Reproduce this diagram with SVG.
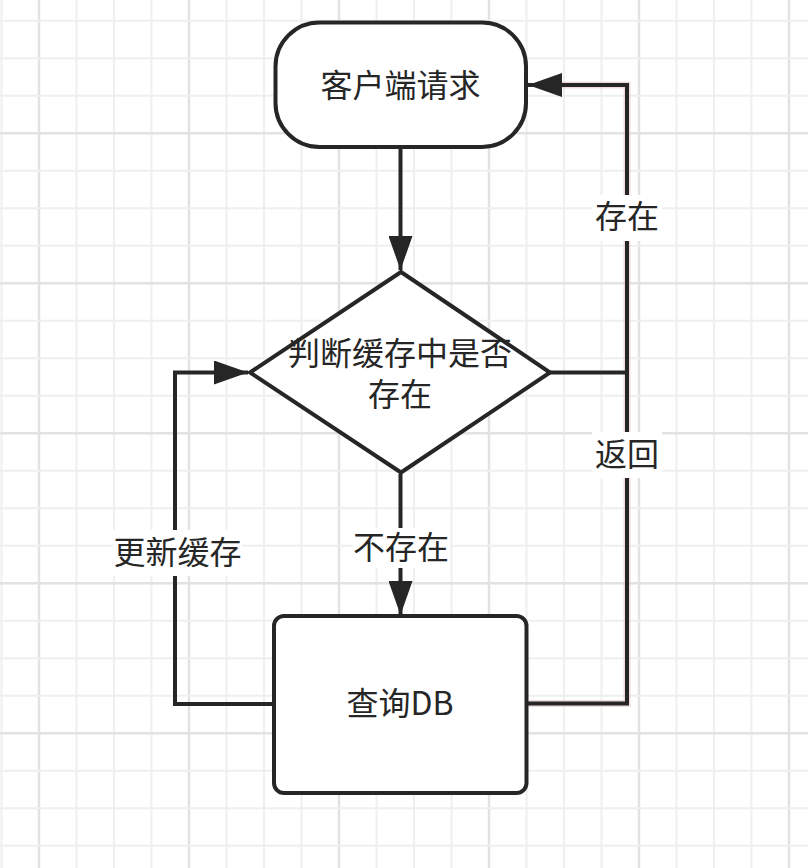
<svg xmlns="http://www.w3.org/2000/svg" width="808" height="868" viewBox="0 0 808 868">
<style>
.minor{stroke:#efefef;stroke-width:2}
.major{stroke:#e2e2e2;stroke-width:2.5}
.shape{fill:#fff;stroke:#262626;stroke-width:4}
.line{fill:none;stroke:#262626;stroke-width:4}
.halo{fill:none;stroke:#e8c4c4;stroke-width:7;opacity:0.6}
.t{font-family:"Noto Sans CJK SC","Noto Sans",sans-serif;font-size:32px;fill:#262626;text-anchor:middle;dominant-baseline:central}
.bg{fill:#fff}
</style>
<defs>
<marker id="arr" markerUnits="userSpaceOnUse" markerWidth="36" markerHeight="24" refX="34" refY="12" orient="auto">
<path d="M0,0 L34,12 L0,24 z" fill="#262626"/>
</marker>
</defs>
<rect width="808" height="868" fill="#fff"/>
<g id="grid">
<path class="minor" d="M1.5,0V868M76.5,0V868M114,0V868M151.5,0V868M226.5,0V868M264,0V868M301.5,0V868M376.5,0V868M414,0V868M451.5,0V868M526.5,0V868M564,0V868M601.5,0V868M676.5,0V868M714,0V868M751.5,0V868"/>
<path class="major" d="M39,0V868M189,0V868M339,0V868M489,0V868M639,0V868M789,0V868"/>
<path class="minor" d="M0,20.7H808M0,58.2H808M0,95.7H808M0,170.7H808M0,208.2H808M0,245.7H808M0,320.7H808M0,358.2H808M0,395.7H808M0,470.7H808M0,508.2H808M0,545.7H808M0,620.7H808M0,658.2H808M0,695.7H808M0,770.7H808M0,808.2H808M0,845.7H808"/>
<path class="major" d="M0,133.2H808M0,283.2H808M0,433.2H808M0,583.2H808M0,733.2H808"/>
</g>
<g id="connectors">
<path class="halo" d="M527,703.5 H627 V85 H540"/>
<path class="line" d="M400.5,149 V270" marker-end="url(#arr)"/>
<path class="line" d="M400.5,474 V615" marker-end="url(#arr)"/>
<path class="line" d="M527,703.5 H627 V85 H528" marker-end="url(#arr)"/>
<path class="line" d="M550,372.5 H627"/>
<path class="line" d="M274,704 H175 V372.5 H248" marker-end="url(#arr)"/>
<g id="label-bucunzai"><rect class="bg" x="352" y="528" width="98" height="40"/><text class="t" x="401" y="545">不存在</text></g>
<g id="label-gengxin"><rect class="bg" x="113" y="530" width="129" height="46"/><text class="t" x="177.5" y="550">更新缓存</text></g>
<g id="label-cunzai"><rect class="bg" x="592" y="195" width="70" height="46"/><text class="t" x="627" y="214">存在</text></g>
<g id="label-fanhui"><rect class="bg" x="592" y="432" width="70" height="46"/><text class="t" x="627" y="452">返回</text></g>
</g>
<g id="node-client">
<rect class="shape" x="275.5" y="22.5" width="250.5" height="124.5" rx="44" ry="44"/>
<text class="t" x="400.5" y="83">客户端请求</text>
</g>
<g id="node-decision">
<path class="shape" d="M401,272 L550,372.5 L401,472.5 L250,372.5 Z"/>
<text class="t" x="400" y="350.5">判断缓存中是否</text>
<text class="t" x="400" y="392">存在</text>
</g>
<g id="node-db">
<rect class="shape" x="274" y="616" width="252.5" height="177" rx="10" ry="10"/>
<text class="t" x="400" y="701">查询DB</text>
</g>
</svg>
